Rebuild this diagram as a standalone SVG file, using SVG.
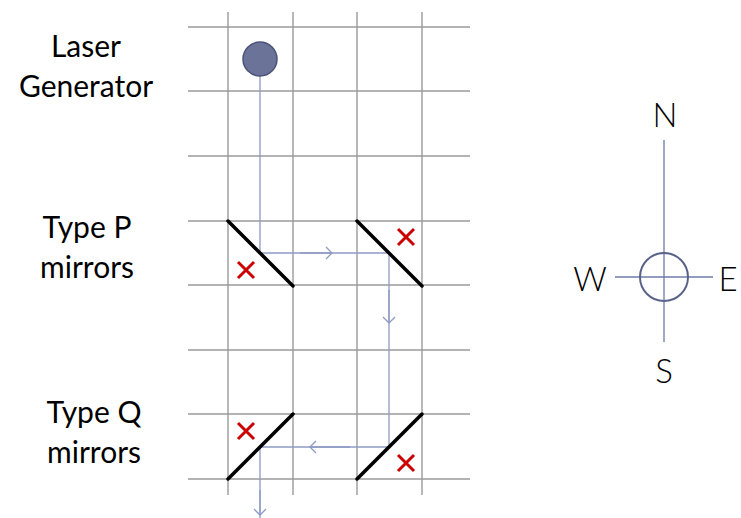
<svg xmlns="http://www.w3.org/2000/svg" width="741" height="518" viewBox="0 0 741 518">
<defs>
<style>
.grid{stroke:#9a9a9a;stroke-width:1.4;fill:none}
.beam{stroke:#8e9ac4;stroke-width:1.3;fill:none}
.mirror{stroke:#000;stroke-width:3.5;stroke-linecap:round}
.x{stroke:#cc0000;stroke-width:3}
.lbl{font-family:"Lato","Open Sans","Liberation Sans",sans-serif;font-size:30px;fill:#000;text-anchor:middle}
.cmp{font-family:"Lato","Open Sans","Liberation Sans",sans-serif;font-size:33px;font-weight:300;fill:#000;text-anchor:middle}
</style>
<marker id="chev" markerWidth="14" markerHeight="14" refX="7" refY="7" orient="auto" markerUnits="userSpaceOnUse">
<path d="M1,1 L7,7 L1,13" fill="none" stroke="#8e9ac4" stroke-width="1.3"/>
</marker>
</defs>
<rect width="741" height="518" fill="#fff"/>
<g id="grid" class="grid">
<line x1="188" y1="27" x2="470" y2="27"/>
<line x1="188" y1="91" x2="470" y2="91"/>
<line x1="188" y1="156" x2="470" y2="156"/>
<line x1="188" y1="221" x2="470" y2="221"/>
<line x1="188" y1="285" x2="470" y2="285"/>
<line x1="188" y1="350" x2="470" y2="350"/>
<line x1="188" y1="414" x2="470" y2="414"/>
<line x1="188" y1="479" x2="470" y2="479"/>
<line x1="228" y1="12" x2="228" y2="495"/>
<line x1="293" y1="12" x2="293" y2="495"/>
<line x1="357" y1="12" x2="357" y2="495"/>
<line x1="422" y1="12" x2="422" y2="495"/>
</g>
<g id="connectors" class="beam">
<path d="M260,76 V253 H389 V447 H260 V518"/>
<path d="M300,253 H332" marker-end="url(#chev)"/>
<path d="M389,290 V323" marker-end="url(#chev)"/>
<path d="M350,447 H310" marker-end="url(#chev)"/>
<path d="M260,490 V515" marker-end="url(#chev)"/>
</g>
<g id="laser">
<circle cx="260" cy="59" r="17" fill="#6b7399" stroke="#4b5378" stroke-width="1.5"/>
</g>
<g id="mirrorP1">
<line class="mirror" x1="228" y1="221" x2="293" y2="286"/>
<path class="x" d="M238,262 L254,278 M254,262 L238,278"/>
</g>
<g id="mirrorP2">
<line class="mirror" x1="357" y1="221" x2="422" y2="286"/>
<path class="x" d="M398,229 L414,245 M414,229 L398,245"/>
</g>
<g id="mirrorQ1">
<line class="mirror" x1="228" y1="479" x2="293" y2="414"/>
<path class="x" d="M238,423 L254,439 M254,423 L238,439"/>
</g>
<g id="mirrorQ2">
<line class="mirror" x1="357" y1="479" x2="422" y2="414"/>
<path class="x" d="M398,455 L414,471 M414,455 L398,471"/>
</g>
<g id="labels">
<text class="lbl" x="86" y="57">Laser</text>
<text class="lbl" x="86" y="97">Generator</text>
<text class="lbl" x="87" y="238">Type P</text>
<text class="lbl" x="87" y="278">mirrors</text>
<text class="lbl" x="94" y="423">Type Q</text>
<text class="lbl" x="94" y="463">mirrors</text>
</g>
<g id="compass">
<line x1="664" y1="140" x2="664" y2="342" stroke="#6f7aa8" stroke-width="1.3"/>
<line x1="615" y1="277" x2="713" y2="277" stroke="#6f7aa8" stroke-width="1.3"/>
<circle cx="664" cy="277" r="24" fill="none" stroke="#5b6288" stroke-width="2"/>
<text class="cmp" x="665" y="127">N</text>
<text class="cmp" x="590" y="291">W</text>
<text class="cmp" x="728" y="291">E</text>
<text class="cmp" x="664" y="383">S</text>
</g>
</svg>
